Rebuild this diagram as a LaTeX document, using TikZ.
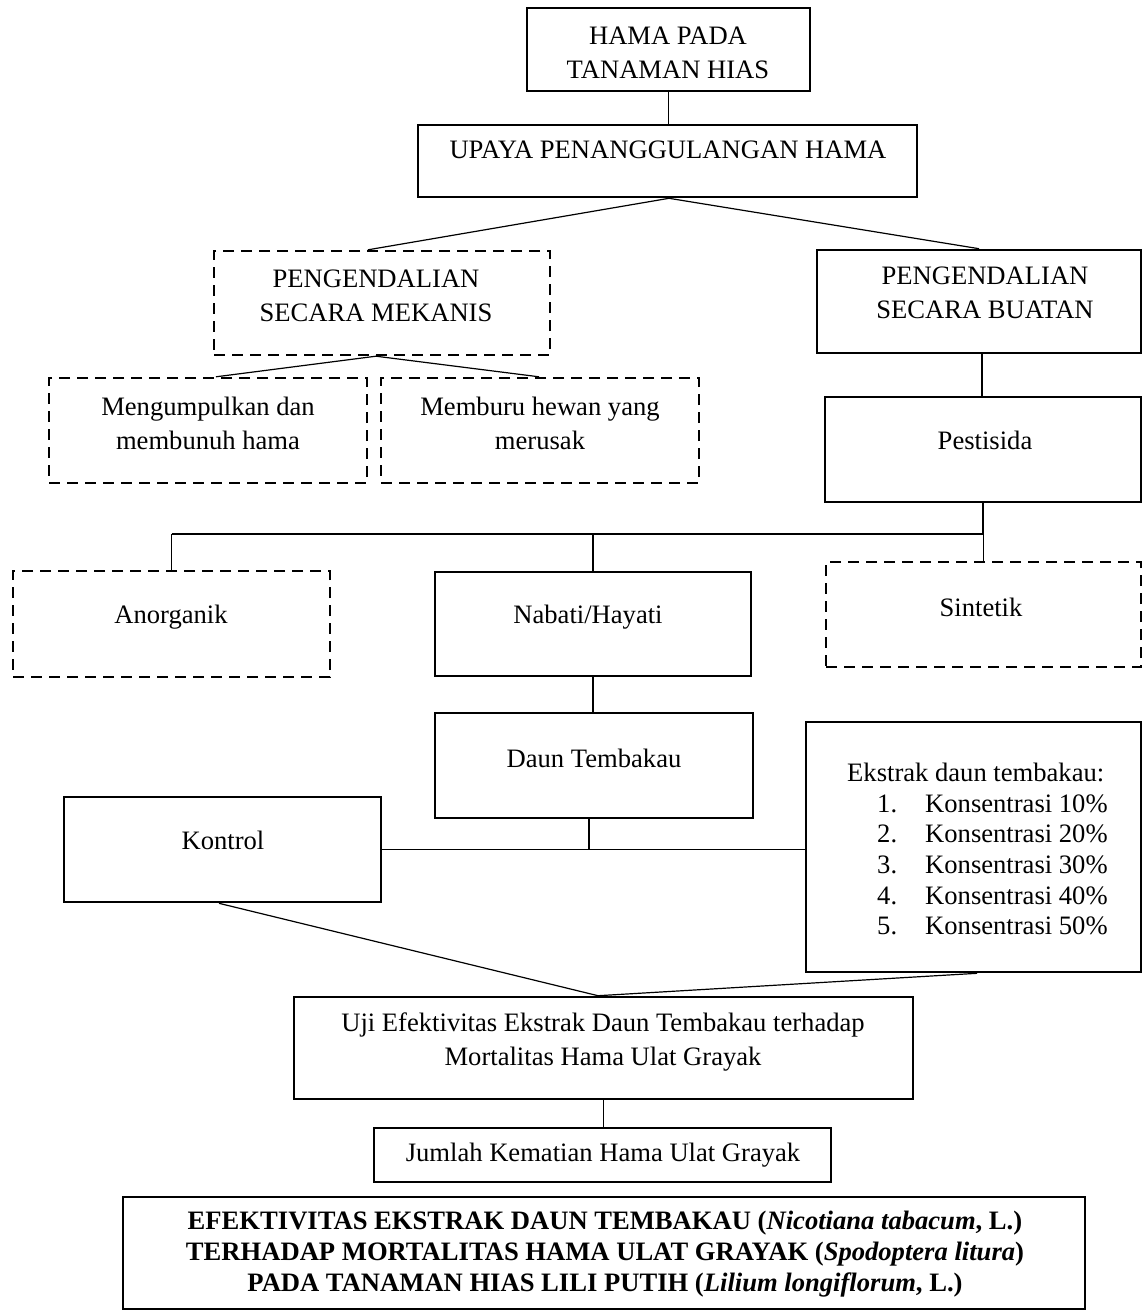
\documentclass[tikz,border=0pt]{standalone}
\usepackage{fontspec}
\setmainfont{Liberation Serif}
\begin{document}
\begin{tikzpicture}[x=1pt,y=-1pt,
  solidbox/.style={draw, line width=2.6pt, rectangle, inner sep=0pt},
  dashbox/.style={draw, line width=2.4pt, rectangle, inner sep=0pt, dash pattern=on 11pt off 7pt},
  conn/.style={line width=1.2pt},
  txt/.style={inner sep=0pt, align=center, font=\fontsize{26.6}{34}\selectfont},
  boldtxt/.style={inner sep=0pt, align=center, font=\fontsize{26.6}{31}\selectfont\bfseries}]
\useasboundingbox (0,0) rectangle (1144,1311);
% boxes
\node[solidbox, minimum width=283pt, minimum height=83pt] (b1) at (668.5,49.5) {};
\node[solidbox, minimum width=499pt, minimum height=72pt] (b2) at (667.5,161) {};
\node[dashbox, minimum width=336pt, minimum height=104pt] (b3) at (382,303) {};
\node[dashbox, minimum width=318pt, minimum height=105pt] (b4a) at (208,430.5) {};
\node[dashbox, minimum width=318pt, minimum height=105pt] (b4b) at (540,430.5) {};
\node[solidbox, minimum width=324pt, minimum height=103pt] (b5) at (979,301.5) {};
\node[solidbox, minimum width=316pt, minimum height=105pt] (pest) at (983,449.5) {};
\node[dashbox, minimum width=317pt, minimum height=106pt] (anorg) at (171.5,624) {};
\node[solidbox, minimum width=316pt, minimum height=104pt] (nabati) at (593,624) {};
\node[dashbox, minimum width=315pt, minimum height=105pt] (sint) at (983.5,614.5) {};
\node[solidbox, minimum width=318pt, minimum height=105pt] (daun) at (594,765.5) {};
\node[solidbox, minimum width=335pt, minimum height=250pt] (ekstrak) at (973.5,847) {};
\node[solidbox, minimum width=317pt, minimum height=105pt] (kontrol) at (222.5,849.5) {};
\node[solidbox, minimum width=619pt, minimum height=102pt] (uji) at (603.5,1048) {};
\node[solidbox, minimum width=457pt, minimum height=54pt] (jumlah) at (602.5,1155) {};
\node[solidbox, minimum width=962pt, minimum height=112pt] (final) at (604,1253) {};
% texts
\node[txt] (t1) at (668,53) {HAMA PADA\\TANAMAN HIAS};
\node[txt] (t2) at (668,150) {UPAYA PENANGGULANGAN HAMA};
\node[txt] (t3) at (376,296) {PENGENDALIAN\\SECARA MEKANIS};
\node[txt] (t4a) at (208,423) {Mengumpulkan dan\\membunuh hama};
\node[txt] (t4b) at (540,423) {Memburu hewan yang\\merusak};
\node[txt] (t5) at (985,293) {PENGENDALIAN\\SECARA BUATAN};
\node[txt] (tpest) at (985,440) {Pestisida};
\node[txt] (tanorg) at (171,617) {Anorganik};
\node[txt] (tnab) at (588,617) {Nabati/Hayati};
\node[txt] (tsint) at (981,607) {Sintetik};
\node[txt] (tdaun) at (594,758) {Daun Tembakau};
\node[txt] (tkon) at (223,840) {Kontrol};
\node[txt, align=left, anchor=north west, font=\fontsize{26.6}{30.6}\selectfont] (tek) at (847,763)
  {Ekstrak daun tembakau:\\
   \hspace*{30pt}\makebox[48pt][l]{1.}Konsentrasi 10\%\\
   \hspace*{30pt}\makebox[48pt][l]{2.}Konsentrasi 20\%\\
   \hspace*{30pt}\makebox[48pt][l]{3.}Konsentrasi 30\%\\
   \hspace*{30pt}\makebox[48pt][l]{4.}Konsentrasi 40\%\\
   \hspace*{30pt}\makebox[48pt][l]{5.}Konsentrasi 50\%};
\node[txt] (tuji) at (603,1042) {Uji Efektivitas Ekstrak Daun Tembakau terhadap\\Mortalitas Hama Ulat Grayak};
\node[txt] (tjum) at (603,1155) {Jumlah Kematian Hama Ulat Grayak};
\node[boldtxt] (tfin) at (605,1254) {EFEKTIVITAS EKSTRAK DAUN TEMBAKAU (\textit{Nicotiana tabacum}, L.)\\
  TERHADAP MORTALITAS HAMA ULAT GRAYAK (\textit{Spodoptera litura})\\
  PADA TANAMAN HIAS LILI PUTIH (\textit{Lilium longiflorum}, L.)};
% connectors
\coordinate (bus) at (0,534);
\draw[conn] (b1.south) -- (b1.south |- b2.north);
\draw[conn] ([xshift=-14pt]b3.north) -- ([xshift=1.5pt]b2.south) -- (b5.north);
\draw[conn] ([xshift=8pt]b4a.north) -- ([xshift=-6pt]b3.south) -- ([xshift=-1pt]b4b.north);
\draw[conn] ([xshift=3pt]b5.south) -- ([xshift=-1pt]pest.north);
\draw[conn] (pest.south) -- (pest.south |- bus);
\draw[conn] (anorg.north |- bus) -- (pest.south |- bus);
\draw[conn] (anorg.north |- bus) -- (anorg.north);
\draw[conn] (nabati.north |- bus) -- (nabati.north);
\draw[conn] (sint.north |- bus) -- (sint.north);
\draw[conn] (nabati.south) -- (nabati.south |- daun.north);
\draw[conn] (kontrol.east) -- (kontrol.east -| ekstrak.west);
\draw[conn] ([xshift=-5pt]daun.south) -- ([xshift=-5pt]daun.south |- kontrol.east);
\draw[conn] ([xshift=-3.5pt]kontrol.south) -- ([xshift=-5.5pt]uji.north) -- ([xshift=3.5pt]ekstrak.south);
\draw[conn] (uji.south) -- (uji.south |- jumlah.north);
\end{tikzpicture}
\end{document}
